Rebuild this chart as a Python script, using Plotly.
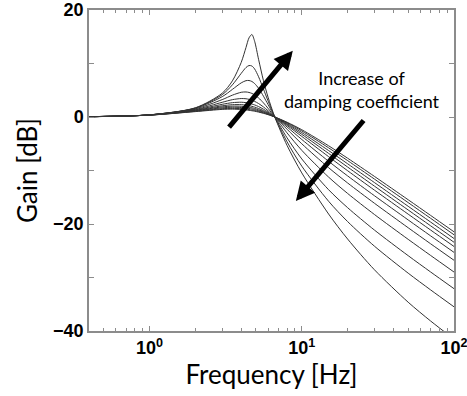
import plotly.graph_objects as go

freq_hz = [0.4, 1, 2, 3, 3.5, 4, 4.3, 4.5, 4.7, 4.9, 5.2, 5.6, 6, 6.65, 8, 10, 15, 20, 30, 50, 70, 100]

# Gain [dB] of each curve, from least damped to most damped
gain_1 = [0.06, 0.40, 1.72, 4.45, 6.75, 10.21, 13.00, 14.79, 15.42, 14.15, 10.79, 6.79, 3.72, -0.02, -5.31, -10.45, -18.13, -22.81, -28.55, -34.62, -38.10, -41.52]
gain_2 = [0.06, 0.40, 1.69, 4.17, 6.01, 8.16, 9.25, 9.62, 9.53, 8.98, 7.53, 5.22, 3.02, -0.01, -4.63, -9.19, -15.75, -19.55, -24.14, -29.19, -32.29, -35.48]
gain_3 = [0.06, 0.40, 1.64, 3.80, 5.16, 6.38, 6.79, 6.82, 6.64, 6.25, 5.37, 3.89, 2.34, -0.01, -3.88, -7.84, -13.59, -16.95, -21.13, -25.92, -28.94, -32.09]
gain_4 = [0.06, 0.39, 1.54, 3.25, 4.08, 4.62, 4.68, 4.59, 4.41, 4.13, 3.57, 2.64, 1.63, -0.01, -2.97, -6.23, -11.23, -14.29, -18.22, -22.87, -25.85, -28.98]
gain_5 = [0.06, 0.39, 1.43, 2.75, 3.24, 3.45, 3.41, 3.30, 3.14, 2.92, 2.52, 1.88, 1.18, 0.0, -2.29, -5.01, -9.47, -12.33, -16.12, -20.70, -23.67, -26.78]
gain_6 = [0.06, 0.38, 1.34, 2.37, 2.68, 2.76, 2.68, 2.57, 2.43, 2.26, 1.95, 1.46, 0.92, 0.0, -1.86, -4.20, -8.28, -11.01, -14.71, -19.24, -22.19, -25.30]
gain_7 = [0.06, 0.37, 1.26, 2.09, 2.30, 2.31, 2.22, 2.12, 1.99, 1.85, 1.59, 1.19, 0.75, 0.0, -1.57, -3.63, -7.41, -10.04, -13.67, -18.16, -21.10, -24.20]
gain_8 = [0.06, 0.37, 1.19, 1.89, 2.03, 2.01, 1.92, 1.83, 1.72, 1.59, 1.36, 1.02, 0.65, 0.0, -1.38, -3.24, -6.80, -9.35, -12.92, -17.38, -20.31, -23.41]
gain_9 = [0.06, 0.36, 1.13, 1.71, 1.82, 1.77, 1.68, 1.60, 1.50, 1.38, 1.19, 0.89, 0.56, 0.0, -1.22, -2.91, -6.27, -8.74, -12.25, -16.69, -19.61, -22.71]
gain_10 = [0.06, 0.35, 1.06, 1.55, 1.61, 1.56, 1.47, 1.39, 1.30, 1.20, 1.03, 0.77, 0.49, 0.0, -1.07, -2.60, -5.76, -8.15, -11.60, -16.00, -18.91, -22.01]
gain_11 = [0.06, 0.35, 1.01, 1.42, 1.47, 1.40, 1.32, 1.25, 1.17, 1.08, 0.92, 0.69, 0.44, 0.0, -0.97, -2.38, -5.38, -7.70, -11.10, -15.47, -18.37, -21.46]

curves = [gain_1, gain_2, gain_3, gain_4, gain_5, gain_6, gain_7, gain_8, gain_9, gain_10, gain_11]

x_tick_vals = [1, 10, 100]
x_tick_text = ["10<sup>0</sup>", "10<sup>1</sup>", "10<sup>2</sup>"]
y_tick_vals = [-40, -20, 0, 20]
y_tick_text = ["\u221240", "\u221220", "0", "20"]

fig = go.Figure()
for g in curves:
    fig.add_trace(go.Scatter(
        x=freq_hz, y=g, mode="lines",
        line=dict(color="#333333", width=1, shape="spline", smoothing=0.8),
        showlegend=False, hoverinfo="skip",
    ))

axis_line = "#8c8c8c"
tick_font = dict(family="Liberation Sans", size=18, color="black", weight="bold")
fig.update_layout(
    width=467, height=396,
    margin=dict(l=89, r=13, t=10, b=65),
    paper_bgcolor="white", plot_bgcolor="white",
    showlegend=False,
    xaxis=dict(
        type="log", range=[-0.398, 2.0], automargin=False,
        tickmode="array", tickvals=x_tick_vals, ticktext=x_tick_text,
        ticks="inside", ticklen=5, tickcolor=axis_line,
        minor=dict(ticks="inside", ticklen=3, dtick="D1", tickcolor=axis_line, showgrid=False),
        showline=True, linecolor=axis_line, linewidth=1.5, mirror="ticks",
        showgrid=False, zeroline=False,
        tickfont=tick_font, ticklabeloverflow="allow",
        title=dict(text="Frequency [Hz]", font=dict(family="Lato", size=26, color="black"), standoff=4),
    ),
    yaxis=dict(
        range=[-40, 20], automargin=False,
        tickmode="array", tickvals=y_tick_vals, ticktext=y_tick_text,
        ticks="inside", ticklen=5, tickcolor=axis_line,
        minor=dict(ticks="inside", ticklen=5, dtick=10, tickcolor=axis_line, showgrid=False),
        showline=True, linecolor=axis_line, linewidth=1.5, mirror="ticks",
        showgrid=False, zeroline=False,
        tickfont=tick_font, ticklabeloverflow="allow",
        title=dict(text="Gain [dB]", font=dict(family="Lato", size=26, color="black"), standoff=8),
    ),
)

# Arrows indicating the increase of damping coefficient
fig.add_annotation(
    x=0.941, y=12.4, xref="x", yref="y",
    ax=-65, ay=78, axref="pixel", ayref="pixel",
    text="", showarrow=True, arrowhead=2, arrowsize=0.75, arrowwidth=5, arrowcolor="black",
)
fig.add_annotation(
    x=0.961, y=-15.7, xref="x", yref="y",
    ax=69, ay=-82, axref="pixel", ayref="pixel",
    text="", showarrow=True, arrowhead=2, arrowsize=0.75, arrowwidth=5, arrowcolor="black",
)
fig.add_annotation(
    x=0.748, y=0.752, xref="paper", yref="paper",
    text="Increase of<br>damping coefficient", showarrow=False,
    font=dict(family="Lato", size=18, color="black"), align="center",
    xanchor="center", yanchor="middle",
)

fig.write_html("out.html")
